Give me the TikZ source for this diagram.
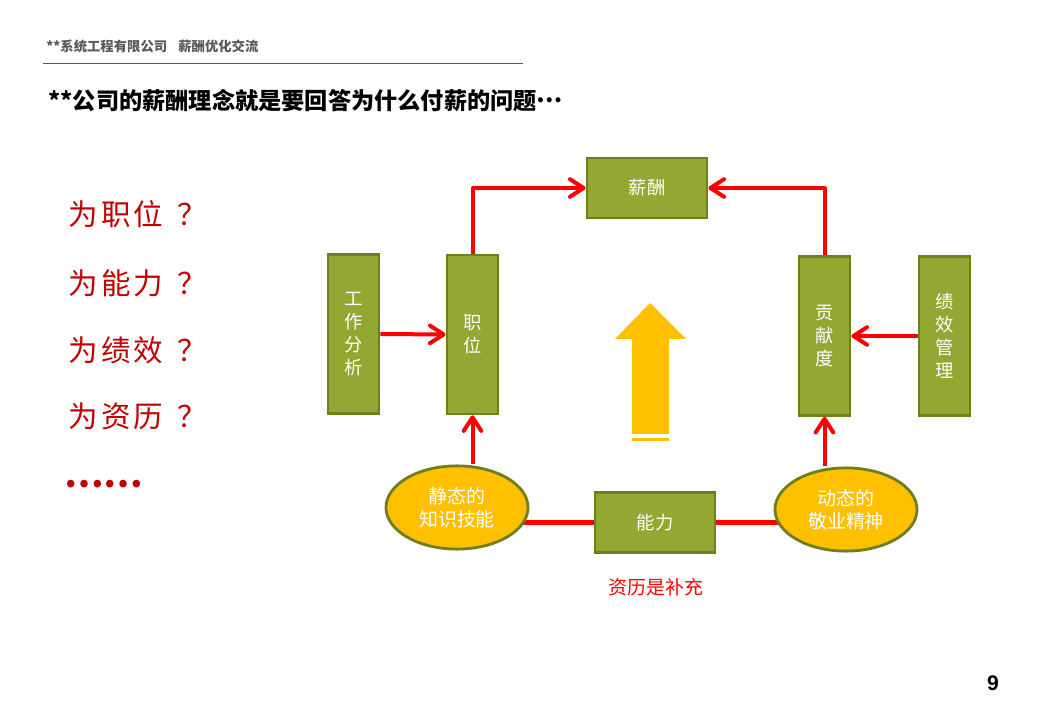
\documentclass[tikz,border=0pt]{standalone}
\usepackage{fontspec}
\setmainfont{Noto Sans CJK SC}
\newfontfamily\askfont[LetterSpace=10]{Noto Sans CJK SC}
\newfontfamily\numfont{Liberation Sans}
\usetikzlibrary{arrows.meta, positioning, backgrounds, shapes.geometric}
\definecolor{boxFill}{RGB}{147,168,50}
\definecolor{boxEdge}{RGB}{111,127,31}
\definecolor{ovalFill}{RGB}{255,192,0}
\definecolor{lineRed}{RGB}{255,0,0}
\definecolor{askRed}{RGB}{192,0,0}
\definecolor{headGray}{RGB}{89,89,89}
\newcommand{\askmark}{\kern10pt？}

\begin{document}
\begin{tikzpicture}[
      x=0.025cm, y=-0.025cm,
      box/.style={rectangle, draw=boxEdge, line width=2pt, fill=boxFill, text=white, align=center, inner sep=0pt, font=\fontsize{13}{16.3}\selectfont},
      widebox/.style={box, minimum width=3cm, minimum height=1.5cm},
      tallbox/.style={box, minimum width=1.275cm, minimum height=3.97cm},
      oval/.style={ellipse, draw=boxEdge, line width=2pt, fill=ovalFill, text=white, align=center, inner sep=0pt, minimum width=3.55cm, minimum height=2.08cm, font=\fontsize{13.5}{16.3}\selectfont},
      ask/.style={anchor=west, text=askRed, font=\askfont\fontsize{21}{24}\selectfont},
      redarrow/.style={-{Straight Barb[length=3.4mm, width=4.4mm, round]}, line width=2.85pt, line join=round, lineRed},
      link/.style={line width=2.85pt, lineRed}
  ]
      \useasboundingbox (0,0) rectangle (1040,720);
      % header
      \node[anchor=west, text=headGray, font=\bfseries\fontsize{9.5}{11}\selectfont, inner sep=0pt] (company) at (46,46) {**系统工程有限公司};
      \node[anchor=west, text=headGray, font=\bfseries\fontsize{9.5}{11}\selectfont, inner sep=0pt] (topic) at (178,46) {薪酬优化交流};
      \draw[headGray, line width=0.6pt] (43,63) -- (523,63);
      \node[anchor=west, font=\bfseries\fontsize{16.5}{19}\selectfont, inner sep=0pt] (title) at (48,101) {**公司的薪酬理念就是要回答为什么付薪的问题\raisebox{0.3em}{…}};
      % questions on the left
      \node[ask] (q1) at (64,214) {为职位\askmark};
      \node[ask] (q2) at (64,283) {为能力\askmark};
      \node[ask] (q3) at (64,350) {为绩效\askmark};
      \node[ask] (q4) at (64,416) {为资历\askmark};
      \node[anchor=base west, text=askRed, font=\bfseries\fontsize{25}{28}\selectfont, inner sep=0pt] (more) at (64,488) {……};
      % boxes
      \node[widebox] (xinchou) at (647,188) {薪酬};
      \node[tallbox] (gongzuo) at (353.5,334) {工\\作\\分\\析};
      \node[tallbox] (zhiwei) at (472.5,334.5) {职\\位};
      \node[tallbox] (gongxian) at (824.5,336) {贡\\献\\度};
      \node[tallbox] (jixiao) at (944.5,336) {绩\\效\\管\\理};
      \node[widebox] (nengli) at (655,522.5) {能力};
      \node[oval] (jingtai) at (457,507.5) {静态的\\知识技能};
      \node[oval] (dongtai) at (846,509.5) {动态的\\敬业精神};
      \node[text=lineRed, font=\fontsize{13.5}{16}\selectfont] (buchong) at (656,587) {资历是补充};
      \node[font=\numfont\bfseries\fontsize{15}{18}\selectfont] (page) at (993,683) {9};
      % big yellow arrow
      \fill[ovalFill] (650,303) -- (686,339) -- (669,339) -- (669,434) -- (632,434) -- (632,339) -- (615,339) -- cycle;
      \fill[ovalFill] (632,438.5) rectangle (669,441);
      % connectors
      \draw[redarrow] (zhiwei.north) |- (xinchou.west);
      \draw[redarrow] (gongxian.north) |- (xinchou.east);
      \draw[redarrow] (gongzuo.east) -- (zhiwei.west);
      \draw[redarrow] (jixiao.west) -- (gongxian.east);
      \draw[redarrow] (jingtai.north -| zhiwei.south) -- (zhiwei.south);
      \draw[redarrow] (dongtai.north -| gongxian.south) -- (gongxian.south);
      \begin{scope}[on background layer]
        \draw[link] (jingtai.center |- nengli.west) -- (nengli.west);
        \draw[link] (nengli.east) -- (dongtai.center |- nengli.east);
      \end{scope}
  \end{tikzpicture}
\end{document}
